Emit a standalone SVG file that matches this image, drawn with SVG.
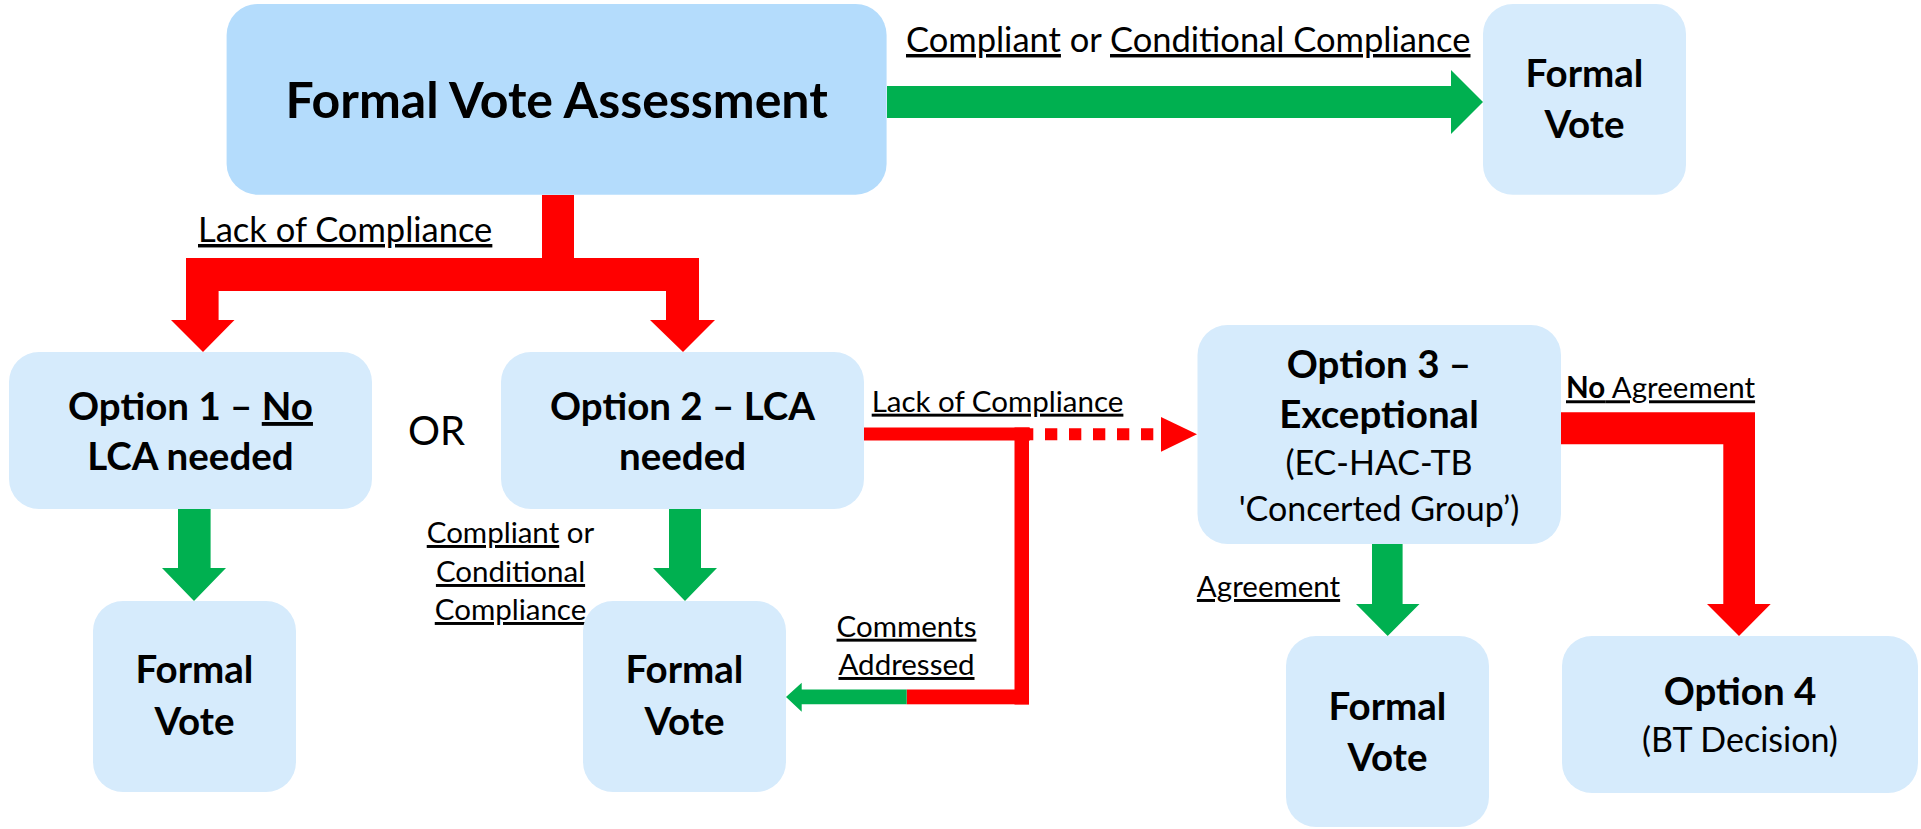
<svg xmlns="http://www.w3.org/2000/svg" width="1921" height="829" viewBox="0 0 1921 829">
<style>
text{font-family:Lato,"Liberation Sans",sans-serif;fill:#000}
.box{fill:#d6ebfc}
.main{fill:#b4dcfc}
.t{font-weight:bold;font-size:38.5px;text-anchor:middle}
.title{font-weight:bold;font-size:50px;text-anchor:middle}
.sub{font-size:34px;text-anchor:middle}
.lbl{font-size:34.5px}
.sl{font-size:29.5px}
.u{text-decoration:underline}
.red{fill:#ff0000}
.grn{fill:#00b050}
</style>
<rect width="1921" height="829" fill="#ffffff"/>
<g id="connectors">
  <polygon class="grn" points="887,86 1451,86 1451,70 1483,102 1451,134 1451,118 887,118"/>
  <polygon class="red" points="542,195 574,195 574,258 699,258 699,320 715,320 683,352 650,320 666,320 666,291 218.6,291 218.6,320 234.5,320 203,352 171,320 186,320 186,258 542,258"/>
  <polygon class="grn" points="178,509 210.6,509 210.6,568 226,568 194,601 162,568 178,568"/>
  <polygon class="grn" points="669,509 701,509 701,568 717,568 685,601 653,568 669,568"/>
  <rect class="red" x="864" y="427.5" width="166" height="13"/>
  <rect class="red" x="1014.5" y="427.5" width="14.5" height="277"/>
  <rect class="red" x="906.7" y="689.5" width="122.3" height="14.8"/>
  <line x1="1021" y1="434.2" x2="1157" y2="434.2" stroke="#ff0000" stroke-width="12" stroke-dasharray="12.3 11.7"/>
  <polygon class="red" points="1161,417 1197,434.3 1161,451.7"/>
  <polygon class="grn" points="906.7,689.5 801.7,689.5 801.7,682.7 786,697 801.7,711.7 801.7,704.3 906.7,704.3"/>
  <polygon class="grn" points="1372,544 1402.6,544 1402.6,604 1419.5,604 1387.7,636 1356,604 1372,604"/>
  <polygon class="red" points="1561,412.3 1755,412.3 1755,604 1770.7,604 1739,636 1707,604 1723.3,604 1723.3,444.3 1561,444.3"/>
</g>
<g id="labels">
  <text class="lbl" x="906" y="52"><tspan class="u">Compliant</tspan> or <tspan class="u">Conditional Compliance</tspan></text>
  <text class="lbl u" x="198" y="242">Lack of Compliance</text>
  <text class="sl u" x="871.7" y="411.7">Lack of Compliance</text>
  <text class="sl" x="1566" y="398.3"><tspan class="u" font-weight="bold">No</tspan><tspan class="u"> Agreement</tspan></text>
  <text class="sl" x="510.5" y="543" text-anchor="middle"><tspan class="u">Compliant</tspan> or</text>
  <text class="sl u" x="510.5" y="582" text-anchor="middle">Conditional</text>
  <text class="sl u" x="510.5" y="620" text-anchor="middle">Compliance</text>
  <text class="sl u" x="906.5" y="636.7" text-anchor="middle">Comments</text>
  <text class="sl u" x="906.5" y="675" text-anchor="middle">Addressed</text>
  <text class="sl u" x="1268.5" y="597" text-anchor="middle">Agreement</text>
  <text x="436.5" y="445" font-size="40" text-anchor="middle">OR</text>
</g>
<g id="assessment">
  <rect class="main" x="226.6" y="4" width="660" height="190.7" rx="31"/>
  <text class="title" x="556.7" y="118">Formal Vote Assessment</text>
</g>
<g id="fv-top">
  <rect class="box" x="1483" y="4" width="203" height="190.7" rx="30"/>
  <text class="t" x="1584.5" y="87">Formal</text>
  <text class="t" x="1584.5" y="138">Vote</text>
</g>
<g id="option1">
  <rect class="box" x="9" y="352" width="363" height="157" rx="30"/>
  <text class="t" x="190.5" y="420">Option 1 – <tspan class="u">No</tspan></text>
  <text class="t" x="190.5" y="470">LCA needed</text>
</g>
<g id="option2">
  <rect class="box" x="501" y="352" width="363" height="157" rx="30"/>
  <text class="t" x="682.5" y="420">Option 2 – LCA</text>
  <text class="t" x="682.5" y="470">needed</text>
</g>
<g id="fv1">
  <rect class="box" x="93" y="601" width="203" height="191" rx="30"/>
  <text class="t" x="194.5" y="683">Formal</text>
  <text class="t" x="194.5" y="735">Vote</text>
</g>
<g id="fv2">
  <rect class="box" x="583" y="601" width="203" height="191" rx="30"/>
  <text class="t" x="684.5" y="683">Formal</text>
  <text class="t" x="684.5" y="735">Vote</text>
</g>
<g id="option3">
  <rect class="box" x="1197.5" y="325" width="363.5" height="219" rx="30"/>
  <text class="t" x="1379" y="377.6">Option 3 –</text>
  <text class="t" x="1379" y="428">Exceptional</text>
  <text class="sub" x="1379" y="475.4">(EC-HAC-TB</text>
  <text class="sub" x="1379" y="521">'Concerted Group’)</text>
</g>
<g id="fv3">
  <rect class="box" x="1286" y="636" width="203" height="191" rx="30"/>
  <text class="t" x="1387.5" y="720">Formal</text>
  <text class="t" x="1387.5" y="770.6">Vote</text>
</g>
<g id="option4">
  <rect class="box" x="1562" y="636" width="356" height="157" rx="30"/>
  <text class="t" x="1740" y="705">Option 4</text>
  <text class="sub" x="1740" y="752">(BT Decision)</text>
</g>
</svg>
